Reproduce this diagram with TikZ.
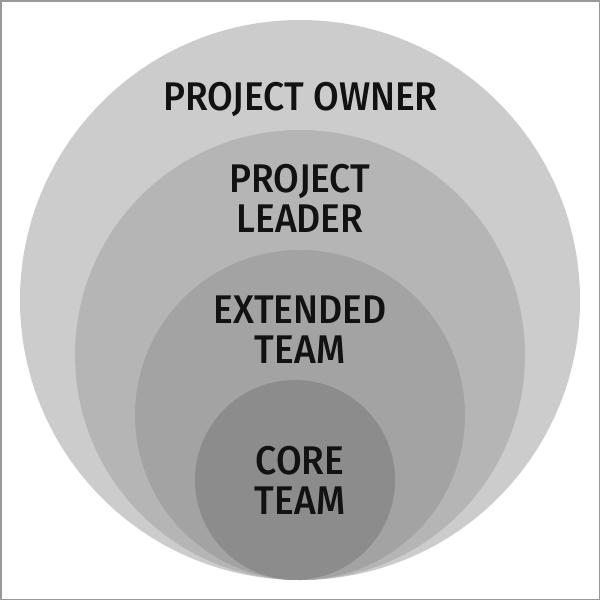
\documentclass[tikz,border=0pt]{standalone}
\usepackage{fontspec}
\setmainfont[FakeStretch=0.93, BoldFont={Fira Sans Medium}]{Fira Sans}
\begin{document}
\begin{tikzpicture}[x=1pt,y=-1pt,
  ring/.style={draw=none},
  lbl/.style={font=\fontsize{40}{39.5}\selectfont\bfseries, text=black!93, align=center, inner sep=0pt, anchor=base}]
\useasboundingbox (0,0) rectangle (600,600);
\fill[white] (0,0) rectangle (600,600);
\draw[line width=1.5pt, draw=black!40] (0.75,0.75) rectangle (599.25,599.25);
\fill[ring, fill=black!20] (300,300) circle[radius=280];
\fill[ring, fill=black!29] (300,355) circle[radius=225];
\fill[ring, fill=black!36] (300,415) circle[radius=165];
\fill[ring, fill=black!45] (295,480) circle[radius=100];
\node[lbl] (owner) at (300.5,110) {PROJECT OWNER};
\node[lbl] (leader) at (300,232) {PROJECT\\LEADER};
\node[lbl] (ext) at (300,363) {EXTENDED\\TEAM};
\node[lbl] (core) at (300,514) {CORE\\TEAM};
\end{tikzpicture}
\end{document}
